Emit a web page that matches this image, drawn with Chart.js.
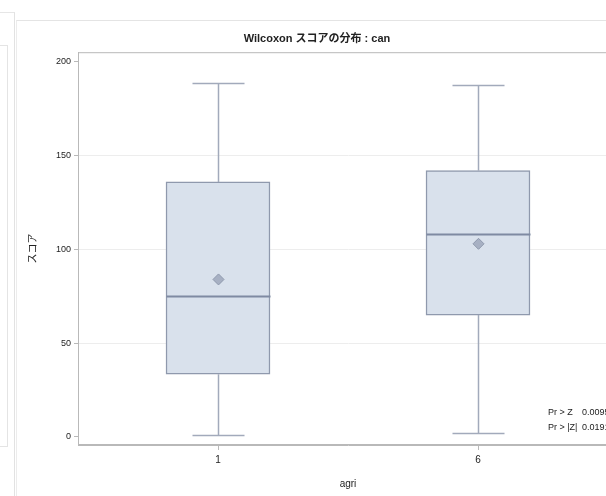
<!DOCTYPE html>
<html><head><meta charset="utf-8">
<script src="https://cdn.jsdelivr.net/npm/chart.js@4.4.0/dist/chart.umd.min.js"></script>
<style>
html,body{margin:0;padding:0;width:606px;height:496px;overflow:hidden;background:#fff;}
#leftpanel{position:absolute;left:0;top:12px;width:14px;height:484px;border-right:1px solid #e2e2e2;border-top:1px solid #e6e6e6;}
#leftinner{position:absolute;left:0;top:45px;width:7px;height:400px;border:1px solid #e4e4e4;border-left:none;}
#panel{position:absolute;left:16px;top:20px;width:600px;height:476px;border-top:1px solid #e4e4e4;border-left:1px solid #ececec;}
#c{position:absolute;left:16px;top:20px;}
</style></head>
<body>
<div id="leftpanel"></div><div id="leftinner"></div><div id="panel"></div>
<canvas id="c" width="602" height="476"></canvas>
<script>
const categories = ['1', '6'];
const positions = [1, 2];
const mins = [1, 2];
const q1s = [33.5, 65];
const medians = [75, 108];
const means = [84, 103];
const q3s = [136, 142];
const maxs = [189, 187.5];
const yTicks = [0, 50, 100, 150, 200];
const titleText = 'Wilcoxon スコアの分布 : can';
const yTitle = 'スコア';
const xTitle = 'agri';
const insetLabels = ['Pr > Z', 'Pr > |Z|'];
const insetValues = ['0.0095', '0.0191'];

const FONT = '"Liberation Sans", "Noto Sans CJK JP", Arial, sans-serif';
const BOX_FILL = '#d9e1ec';
const BOX_LINE = '#8f99ad';
const WHISK = '#a2aabb';

const boxPlugin = {
  id: 'boxExtras',
  beforeDatasetsDraw(chart) {
    const {ctx, chartArea: a} = chart;
    ctx.save();
    ctx.strokeStyle = '#b9b9b9';
    ctx.lineWidth = 1;
    ctx.strokeRect(a.left + 0.5, a.top + 0.5, a.right - a.left - 1, a.bottom - a.top - 1);
    ctx.restore();
  },
  afterDatasetsDraw(chart) {
    const {ctx} = chart;
    const xs = chart.scales.x, ys = chart.scales.y;
    const meta = chart.getDatasetMeta(0);
    ctx.save();
    positions.forEach((p, i) => {
      const bar = meta.data[i];
      const half = bar.width / 2;
      const cx = Math.round(xs.getPixelForValue(p)) + 0.5;
      const capHalf = half / 2;
      const yMin = Math.round(ys.getPixelForValue(mins[i])) + 0.5;
      const yMax = Math.round(ys.getPixelForValue(maxs[i])) + 0.5;
      const yQ1 = ys.getPixelForValue(q1s[i]);
      const yQ3 = ys.getPixelForValue(q3s[i]);
      const yMed = Math.round(ys.getPixelForValue(medians[i])) + 0.5;
      const yMean = ys.getPixelForValue(means[i]);
      ctx.strokeStyle = WHISK;
      ctx.lineWidth = 1.5;
      ctx.beginPath();
      ctx.moveTo(cx, yQ3); ctx.lineTo(cx, yMax);
      ctx.moveTo(cx, yQ1); ctx.lineTo(cx, yMin);
      ctx.moveTo(cx - capHalf, yMax); ctx.lineTo(cx + capHalf, yMax);
      ctx.moveTo(cx - capHalf, yMin); ctx.lineTo(cx + capHalf, yMin);
      ctx.stroke();
      ctx.strokeStyle = '#7f8aa2';
      ctx.lineWidth = 2;
      ctx.beginPath();
      ctx.moveTo(cx - half, yMed); ctx.lineTo(cx + half, yMed);
      ctx.stroke();
      const d = 5.5;
      ctx.fillStyle = '#a7b0c3';
      ctx.strokeStyle = '#8f99ad';
      ctx.lineWidth = 1;
      ctx.beginPath();
      ctx.moveTo(cx, yMean - d); ctx.lineTo(cx + d, yMean); ctx.lineTo(cx, yMean + d); ctx.lineTo(cx - d, yMean);
      ctx.closePath(); ctx.fill(); ctx.stroke();
    });
    ctx.fillStyle = '#222';
    ctx.font = '9px ' + FONT;
    ctx.textBaseline = 'middle';
    ctx.textAlign = 'left';
    insetLabels.forEach((t, k) => {
      ctx.fillText(t, 532, 393 + 15 * k);
      ctx.fillText(insetValues[k], 566, 393 + 15 * k);
    });
    ctx.restore();
  }
};

new Chart(document.getElementById('c'), {
  type: 'bar',
  data: {
    datasets: [{
      data: positions.map((p, i) => ({x: p, y: [q1s[i], q3s[i]]})),
      backgroundColor: BOX_FILL,
      borderColor: BOX_LINE,
      borderWidth: 1.5,
      borderSkipped: false,
      barThickness: 104
    }]
  },
  options: {
    responsive: false,
    animation: false,
    devicePixelRatio: 1,
    layout: {padding: {left: 0, right: 0, top: 0, bottom: 0}},
    plugins: {
      legend: {display: false},
      tooltip: {enabled: false},
      title: {
        display: true, text: titleText, color: '#222',
        font: {family: FONT, size: 11, weight: 'bold'},
        padding: {top: 12, bottom: 7}
      }
    },
    scales: {
      x: {
        type: 'linear',
        offset: false,
        min: 1 - 140 / 260, max: 2 + 140 / 260,
        afterBuildTicks: s => { s.ticks = positions.map(v => ({value: v})); },
        afterFit: s => { s.height = 51; },
        ticks: {
          callback: v => categories[positions.indexOf(v)],
          color: '#222', font: {family: FONT, size: 10}, padding: 4, maxRotation: 0
        },
        grid: {display: true, offset: false, drawOnChartArea: false, tickLength: 5, color: '#b9b9b9'},
        border: {display: true, color: '#b9b9b9'},
        title: {display: true, text: xTitle, color: '#222', font: {family: FONT, size: 10}, padding: {top: 4, bottom: 6}}
      },
      y: {
        min: -4.3, max: 205.2,
        afterBuildTicks: s => { s.ticks = yTicks.map(v => ({value: v})); },
        afterFit: s => { s.width = 62; },
        ticks: {color: '#222', font: {family: FONT, size: 9}, padding: 3},
        grid: {
          tickLength: 4,
          color: ctx => (ctx.tick && ctx.tick.value > 0 && ctx.tick.value < 200) ? '#ededed' : 'rgba(0,0,0,0)',
          tickColor: '#b9b9b9'
        },
        border: {display: true, color: '#b9b9b9'},
        title: {display: true, text: yTitle, color: '#222', font: {family: FONT, size: 10}, padding: {top: 11, bottom: 4}}
      }
    }
  },
  plugins: [boxPlugin]
});
</script>
</body></html>
